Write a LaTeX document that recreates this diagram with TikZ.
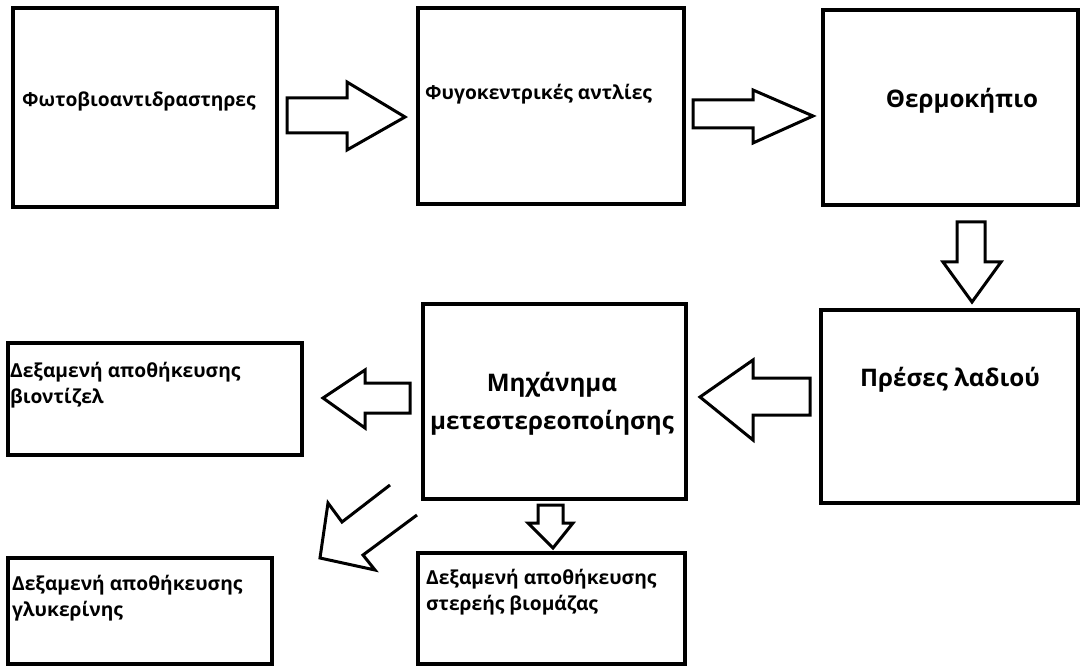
\documentclass[tikz,border=0pt]{standalone}
\usepackage{fontspec}
\setmainfont{Open Sans}[BoldFont={Open Sans Bold}]
\begin{document}
\begin{tikzpicture}[x=1pt,y=-1pt,
  box/.style={draw=black,line width=3.5pt,fill=white},
  blk/.style={draw=black,line width=3pt,line join=miter,fill=white},
  small/.style={font=\bfseries\fontsize{19.2}{26}\selectfont,anchor=west,inner sep=0pt,align=left},
  big/.style={font=\bfseries\fontsize{24.2}{38}\selectfont,inner sep=0pt,align=center}]
\useasboundingbox[fill=white] (0,0) rectangle (1081,668);
% boxes
\draw[box] (13,8) rectangle (277,207) coordinate (b1);
\draw[box] (418,8) rectangle (684,204) coordinate (b2);
\draw[box] (823,10) rectangle (1078,205) coordinate (b3);
\draw[box] (821,310) rectangle (1078,503) coordinate (b4);
\draw[box] (423,304) rectangle (686,499) coordinate (b5);
\draw[box] (8,343) rectangle (302,455) coordinate (b6);
\draw[box] (8,558) rectangle (272,664) coordinate (b7);
\draw[box] (418,553) rectangle (685,664) coordinate (b8);
% texts
\node[small] (t1) at (22,101) {Φωτοβιοαντιδραστηρες};
\node[small] (t2) at (425,94) {Φυγοκεντρικές αντλίες};
\node[big] (t3) at (962,101) {Θερμοκήπιο};
\node[big,anchor=west] (t4) at (860,380) {Πρέσες λαδιού};
\node[big] (t5) at (552,404) {Μηχάνημα\\μετεστερεοποίησης};
\node[small] (t6) at (10,385) {Δεξαμενή αποθήκευσης\\βιοντίζελ};
\node[small] (t7) at (12,598) {Δεξαμενή αποθήκευσης\\γλυκερίνης};
\node[small] (t8) at (426,592) {Δεξαμενή αποθήκευσης\\στερεής βιομάζας};
% block arrows
\draw[blk] (287,98) -- (347,98) -- (347,82) -- (405,117) -- (347,150) -- (347,133) -- (287,133) -- cycle;
\draw[blk] (693,100) -- (753,100) -- (753,90) -- (813,116) -- (753,143) -- (753,128) -- (693,128) -- cycle;
\draw[blk] (957,222) -- (985,222) -- (985,262) -- (1001,262) -- (972,302) -- (943,262) -- (957,262) -- cycle;
\draw[blk] (410,383) -- (365,383) -- (365,370) -- (323,398) -- (365,428) -- (365,413) -- (410,413) -- cycle;
\draw[blk] (810,378) -- (753,378) -- (753,360) -- (700,397) -- (753,440) -- (753,415) -- (810,415) -- cycle;
\draw[blk] (538,505) -- (563,505) -- (563,523) -- (573,523) -- (553,548) -- (528,523) -- (538,523) -- cycle;
\draw[draw=black,line width=3pt,line join=miter] (390,485) -- (342,522) -- (328,503) -- (320,558) -- (375,570) -- (363,555) -- (417,515);
\end{tikzpicture}
\end{document}
